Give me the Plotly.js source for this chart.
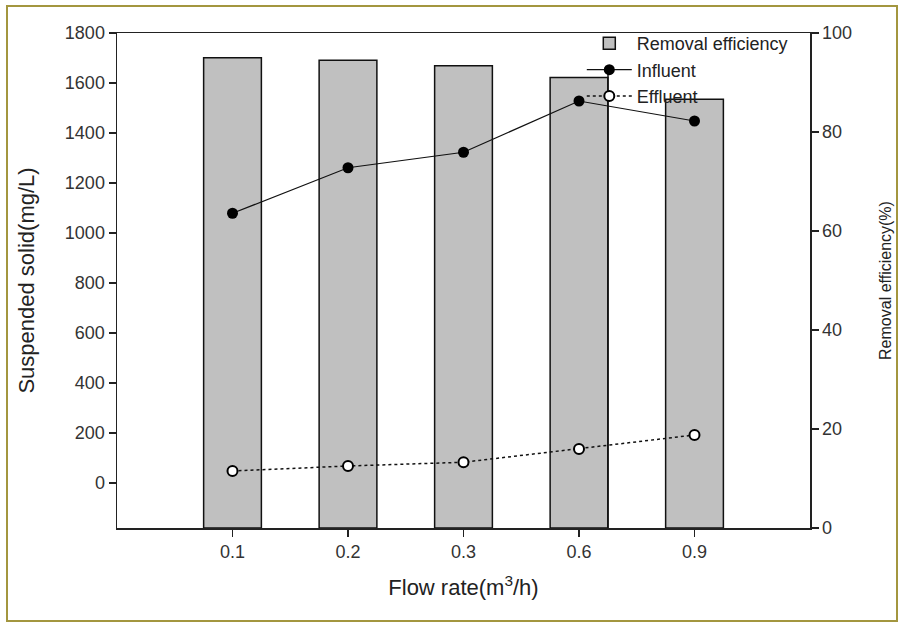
<!DOCTYPE html>
<html>
<head>
<meta charset="utf-8">
<script src="https://cdn.plot.ly/plotly-3.0.1.min.js"></script>
<style>html,body{margin:0;padding:0;background:#fff;}#chart{width:899px;height:622px;}</style>
</head>
<body>
<div id="chart"></div>
<script>
// Data
const flowRates = ["0.1", "0.2", "0.3", "0.6", "0.9"];
const removalEfficiency = [95.0, 94.5, 93.4, 91.0, 86.6];   // %
const influent = [1079, 1261, 1323, 1528, 1448];           // mg/L
const effluent = [48, 68, 83, 136, 192];                   // mg/L

const leftTicks = [0, 200, 400, 600, 800, 1000, 1200, 1400, 1600, 1800];
const rightTicks = [0, 20, 40, 60, 80, 100];

const FONT = "Liberation Sans, Arial, sans-serif";

const traces = [
  {
    type: "bar", name: "Removal efficiency",
    x: flowRates, y: removalEfficiency,
    width: 0.5,
    marker: {color: "#c0c0c0", line: {color: "#111", width: 1.5}},
    xaxis: "x", yaxis: "y"
  },
  {
    type: "scatter", mode: "lines+markers", name: "Influent",
    x: flowRates, y: influent,
    line: {color: "#111", width: 1.2},
    marker: {symbol: "circle", size: 11, color: "#000"},
    xaxis: "x", yaxis: "y2"
  },
  {
    type: "scatter", mode: "lines+markers", name: "Effluent",
    x: flowRates, y: effluent,
    line: {color: "#111", width: 1.5, dash: "dot"},
    marker: {symbol: "circle", size: 10, color: "#fff", line: {color: "#000", width: 2}},
    xaxis: "x", yaxis: "y2"
  }
];

const layout = {
  width: 899, height: 622,
  margin: {l: 117, r: 89, t: 33, b: 94},
  paper_bgcolor: "#fff", plot_bgcolor: "#fff",
  font: {family: FONT, size: 18, color: "#222"},
  showlegend: true,
  legend: {
    x: 0.6707, xanchor: "left", y: 1.016, yanchor: "top",
    itemwidth: 45,
    bgcolor: "rgba(0,0,0,0)", borderwidth: 0,
    font: {family: FONT, size: 18, color: "#222"},
    tracegroupgap: 0
  },
  bargap: 0.5,
  xaxis: {
    type: "category", range: [-1, 5],
    showline: true, linecolor: "#222", linewidth: 1.5, mirror: true,
    ticks: "outside", ticklen: 7, tickcolor: "#222", tickwidth: 1.5,
    showgrid: false, zeroline: false,
    tickfont: {family: FONT, size: 18, color: "#333"},
    title: {text: "Flow rate(m<sup>3</sup>/h)", font: {family: FONT, size: 22, color: "#222"}, standoff: 18}
  },
  yaxis: {
    side: "right", range: [0, 100],
    tickvals: rightTicks, ticktext: rightTicks.map(String),
    showline: true, linecolor: "#222", linewidth: 1.5,
    ticks: "outside", ticklen: 7, tickcolor: "#222", tickwidth: 1.5,
    showgrid: false, zeroline: false,
    tickfont: {family: FONT, size: 18, color: "#333"},
    title: {text: "Removal efficiency(%)", font: {family: FONT, size: 16, color: "#222"}, standoff: 28}
  },
  yaxis2: {
    overlaying: "y", side: "left", range: [-180, 1800],
    tickvals: leftTicks, ticktext: leftTicks.map(String),
    showline: true, linecolor: "#222", linewidth: 1.5,
    ticks: "outside", ticklen: 7, tickcolor: "#222", tickwidth: 1.5,
    showgrid: false, zeroline: false,
    tickfont: {family: FONT, size: 18, color: "#333"},
    title: {text: "Suspended solid(mg/L)", font: {family: FONT, size: 22, color: "#222"}, standoff: 24}
  },
  shapes: [
    {type: "rect", xref: "paper", yref: "paper",
     x0: -110/693, x1: 780/693, y0: -93/495, y1: 522/495,
     line: {color: "#a3963f", width: 2}, fillcolor: "rgba(0,0,0,0)", layer: "below"},
    {type: "line", xref: "paper", yref: "paper",
     x0: 491/693, x1: 491/693, y0: 0, y1: 458/495,
     line: {color: "#111", width: 1.5}}
  ]
};

Plotly.newPlot("chart", traces, layout, {displayModeBar: false, staticPlot: true});
</script>
</body>
</html>
